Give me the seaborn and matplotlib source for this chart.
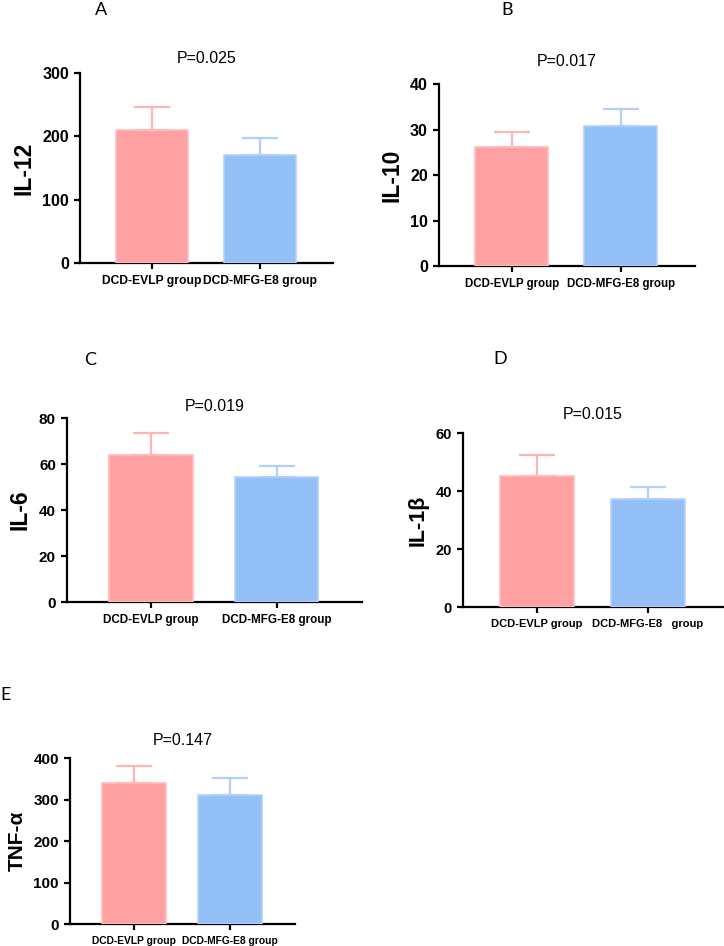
import pandas as pd
import matplotlib
matplotlib.use("Agg")
import matplotlib.pyplot as plt
import seaborn as sns

groups = ["DCD-EVLP group", "DCD-MFG-E8 group"]
groups_d = ["DCD-EVLP group", "DCD-MFG-E8   group"]

panel_letters = ["A", "B", "C", "D", "E"]
cytokines = ["IL-12", "IL-10", "IL-6", "IL-1β", "TNF-α"]
p_values = ["P=0.025", "P=0.017", "P=0.019", "P=0.015", "P=0.147"]

il12_mean = [210, 170]
il12_err = [37, 27]
il10_mean = [26.2, 30.8]
il10_err = [3.2, 3.6]
il6_mean = [64, 54.2]
il6_err = [9.4, 5.0]
il1b_mean = [45.2, 37.2]
il1b_err = [7.2, 4.3]
tnfa_mean = [340, 310]
tnfa_err = [41, 41]

y_max = [300, 40, 80, 60, 400]
y_step = [100, 10, 20, 20, 100]

fill_colors = ["#FFA0A2", "#94C0F8"]
edge_colors = ["#FFBDBD", "#B3D2FA"]
err_colors = ["#FFB5B6", "#B2D1FA"]

# axes boxes in pixels: left, right, top, bottom
boxes = [(80, 333, 73, 263), (439, 695, 84, 266), (67, 362, 418, 602),
         (463, 723, 433, 607), (70, 295, 758, 924)]
title_pads = [7.5, 13, 4.7, 10.4, 9.7]
letter_pos = [(101, 10), (507, 10), (90, 360), (500, 359), (6, 695)]
xlab_sizes = [8.7, 8.3, 8.4, 8.0, 7.4]
ytick_sizes = [11.5, 11.5, 11, 10.5, 11]
ylab_sizes = [16.5, 16.5, 16.5, 15.5, 15]

W, H = 724, 946
sns.set_style("white")
plt.rcParams["font.family"] = ["Liberation Sans", "DejaVu Sans"]
plt.rcParams["text.color"] = "black"
plt.rcParams["xtick.color"] = "black"
plt.rcParams["ytick.color"] = "black"
plt.rcParams["axes.labelcolor"] = "black"
fig = plt.figure(figsize=(W / 100, H / 100), dpi=100)

means = [il12_mean, il10_mean, il6_mean, il1b_mean, tnfa_mean]
errs = [il12_err, il10_err, il6_err, il1b_err, tnfa_err]

for i in range(5):
    l, r, t, b = boxes[i]
    ax = fig.add_axes([l / W, 1 - b / H, (r - l) / W, (b - t) / H])
    labels = groups_d if i == 3 else groups
    df = pd.DataFrame({"group": labels, "value": means[i]})
    sns.barplot(data=df, x="group", y="value", hue="group", palette=fill_colors,
                saturation=1, width=0.667, errorbar=None, legend=False, ax=ax, zorder=3)
    for patch, ec in zip(ax.patches, edge_colors):
        patch.set_edgecolor(ec)
        patch.set_linewidth(1.2)
    # upper-only error bars, SD style
    for j in range(2):
        ax.errorbar(j, means[i][j], yerr=[[0], [errs[i][j]]], color=err_colors[j],
                    capsize=13, elinewidth=1.6, capthick=1.6, zorder=2)
    ax.set_xlim(-0.667, 1.68)
    ax.set_ylim(0, y_max[i])
    ax.set_yticks(range(0, y_max[i] + 1, y_step[i]))
    sns.despine(ax=ax)
    for s in ["left", "bottom"]:
        ax.spines[s].set_linewidth(1.6)
        ax.spines[s].set_color("black")
    ax.tick_params(axis="both", direction="out", length=4.5, width=1.6, color="black",
                   left=True, bottom=True, pad=3.5)
    ax.tick_params(axis="y", labelsize=ytick_sizes[i])
    ax.tick_params(axis="x", labelsize=xlab_sizes[i], pad=4)
    for lab in ax.get_yticklabels() + ax.get_xticklabels():
        lab.set_fontweight("bold")
    ax.set_xlabel("")
    ax.set_ylabel(cytokines[i], fontsize=ylab_sizes[i], fontweight="bold", labelpad=5)
    ax.set_title(p_values[i], fontsize=11.5, pad=title_pads[i])
    fig.text(letter_pos[i][0] / W, 1 - letter_pos[i][1] / H, panel_letters[i],
             fontsize=13, ha="center", va="center", family=["Lato", "DejaVu Sans"])

fig.savefig("out.png", dpi=100)
